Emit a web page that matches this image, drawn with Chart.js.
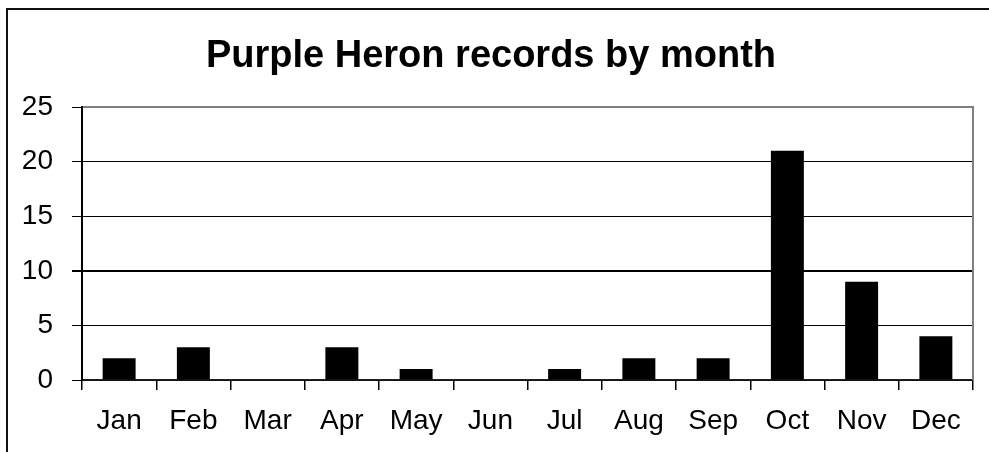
<!DOCTYPE html>
<html>
<head>
<meta charset="utf-8">
<script src="https://cdn.jsdelivr.net/npm/chart.js@4.4.0/dist/chart.umd.min.js"></script>
<style>
  html, body { margin: 0; padding: 0; background: #fff; overflow: hidden; }
  #wrap { position: relative; width: 989px; height: 452px; }
  #frame { position: absolute; left: 6px; top: 8px; width: 2000px; height: 1000px;
           border-left: 2px solid #111; border-top: 2px solid #111; pointer-events: none; }
  canvas { position: absolute; left: 0; top: 0; }
</style>
</head>
<body>
<div id="wrap">
  <canvas id="c" width="989" height="452"></canvas>
  <div id="frame"></div>
</div>
<script>
const titleText = 'Purple Heron records by month';
const months = ['Jan','Feb','Mar','Apr','May','Jun','Jul','Aug','Sep','Oct','Nov','Dec'];
const records = [2, 3, 0, 3, 1, 0, 1, 2, 2, 21, 9, 4];
const yTicks = [0, 5, 10, 15, 20, 25];

const FONT = '"Liberation Sans", Arial, Helvetica, sans-serif';

const plotFrame = {
  id: 'plotFrame',
  afterDraw(chart) {
    const { ctx, chartArea: a } = chart;
    ctx.save();
    ctx.strokeStyle = '#808080';
    ctx.lineWidth = 2;
    ctx.beginPath();
    ctx.moveTo(a.left + 1, a.top);
    ctx.lineTo(a.right, a.top);
    ctx.lineTo(a.right, a.bottom);
    ctx.stroke();
    ctx.restore();
  }
};

new Chart(document.getElementById('c'), {
  type: 'bar',
  data: {
    labels: months,
    datasets: [{
      data: records,
      backgroundColor: '#000',
      borderWidth: 0,
      barPercentage: 0.444,
      categoryPercentage: 1.0
    }]
  },
  options: {
    responsive: false,
    animation: false,
    devicePixelRatio: 1,
    layout: { padding: { left: 9, right: 16, top: 34, bottom: 0 } },
    plugins: {
      legend: { display: false },
      tooltip: { enabled: false },
      title: {
        display: true,
        text: titleText,
        color: '#000',
        font: { family: FONT, size: 38, weight: 'bold', lineHeight: 1.2 },
        padding: { top: 0, bottom: 27.4 }
      }
    },
    scales: {
      x: {
        grid: { display: true, drawOnChartArea: false, drawTicks: true, tickLength: 10, color: '#000', lineWidth: 1.5, offset: true },
        border: { display: true, color: '#222', width: 1.5 },
        ticks: { color: '#000', font: { family: FONT, size: 28 }, padding: 14, maxRotation: 0, autoSkip: false },
        afterFit(scale) { scale.height = 72; }
      },
      y: {
        min: 0,
        max: 25,
        afterBuildTicks(scale) { scale.ticks = yTicks.map(v => ({ value: v })); },
        grid: {
          color: '#000',
          lineWidth: ctx => (ctx.tick && ctx.tick.value === 10 ? 2 : 1),
          drawTicks: true,
          tickLength: 10
        },
        border: { display: true, color: '#000', width: 2 },
        ticks: { color: '#000', font: { family: FONT, size: 28 }, padding: 19 },
        afterFit(scale) { scale.width = 73; }
      }
    }
  },
  plugins: [plotFrame]
});
</script>
</body>
</html>
